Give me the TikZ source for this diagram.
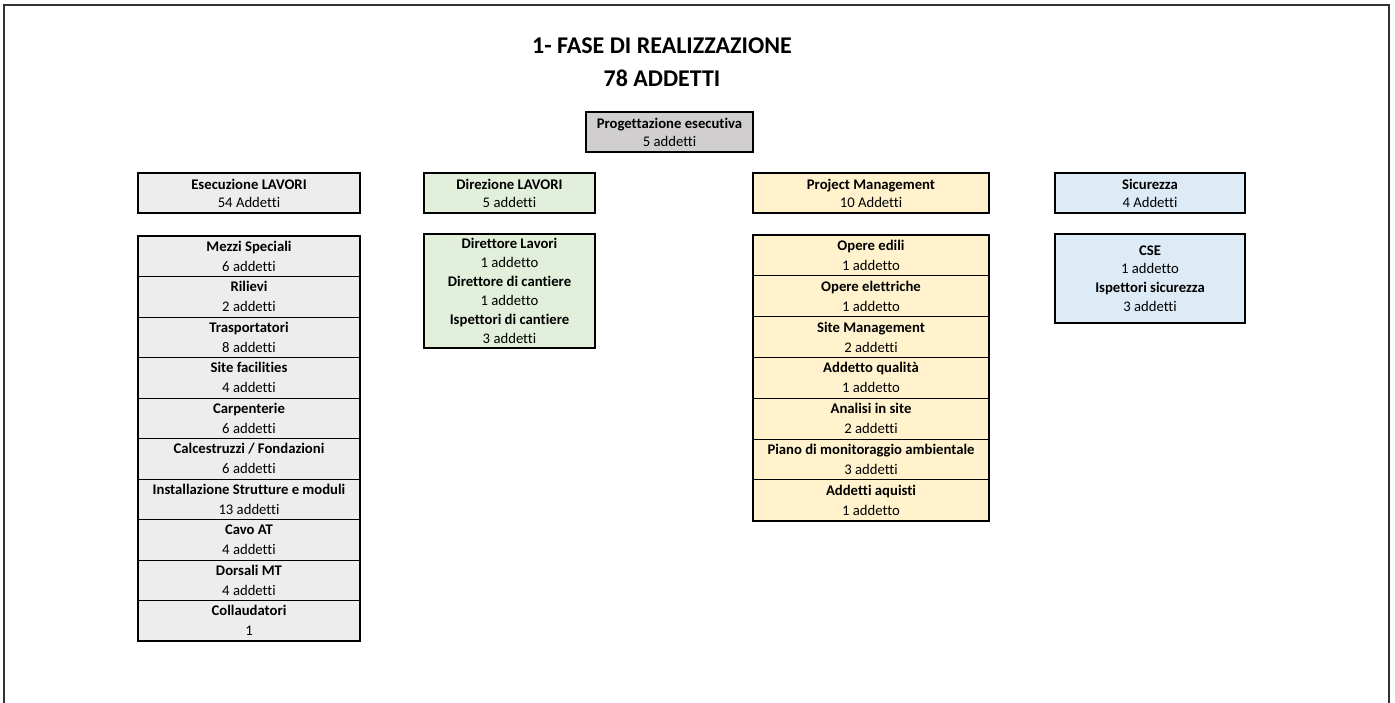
\documentclass[tikz,border=0pt]{standalone}
\usepackage{fontspec}
\setmainfont{Carlito}[Ligatures=NoCommon]
\usetikzlibrary{positioning}

\definecolor{progGray}{HTML}{D0CECE}
\definecolor{esecGray}{HTML}{EDEDED}
\definecolor{dirGreen}{HTML}{E2EFDA}
\definecolor{pmYellow}{HTML}{FFF2CC}
\definecolor{sicBlue}{HTML}{DDEBF7}

\tikzset{
  headbox/.style={draw=black, line width=2pt, minimum height=40pt, inner sep=0pt,
    align=center, font=\fontsize{14.7}{18}\selectfont},
  rowbox/.style={draw=black, line width=0.8pt, minimum height=#1, inner sep=0pt,
    align=center, font=\fontsize{14.7}{20}\selectfont},
  listbox/.style={draw=black, line width=2pt, inner sep=0pt, align=center},
  outline/.style={line width=2pt}
}

\begin{document}
\begin{tikzpicture}[x=1pt,y=-1pt]
\useasboundingbox (0,0) rectangle (1395,702);
% outer frame
\draw[line width=2pt, draw=black!80] (4,720) -- (4,5) -- (1389,5) -- (1389,720);

% title
\node[align=center, font=\fontsize{24}{32.5}\selectfont\bfseries] (title) at (662,62)
  {1- FASE DI REALIZZAZIONE\\78 ADDETTI};

\node[headbox, fill=progGray, minimum width=167pt] (prog) at (669.5,132)
  {\textbf{Progettazione esecutiva}\\5 addetti};

% heads
\node[headbox, fill=esecGray, minimum width=222pt] (esec) at (249,193)
  {\textbf{Esecuzione LAVORI}\\54 Addetti};
\node[headbox, fill=dirGreen, minimum width=171pt] (dirl) at (509.5,193)
  {\textbf{Direzione LAVORI}\\5 addetti};
\node[headbox, fill=pmYellow, minimum width=236pt] (pm) at (871,193)
  {\textbf{Project Management}\\10 Addetti};
\node[headbox, fill=sicBlue, minimum width=190pt] (sic) at (1150,193)
  {\textbf{Sicurezza}\\4 Addetti};

% esecuzione lavori
\foreach \lbl/\cnt [count=\i] in {Mezzi Speciali/6 addetti, Rilievi/2 addetti,
    Trasportatori/8 addetti, Site facilities/4 addetti, Carpenterie/6 addetti,
    {Calcestruzzi / Fondazioni}/6 addetti, Installazione Strutture e moduli/13 addetti,
    Cavo AT/4 addetti, Dorsali MT/4 addetti, Collaudatori/1}
  \node[rowbox=40.5pt, fill=esecGray, minimum width=222pt] (ese\i) at (249,{236+40.5*\i-20.25})
    {\textbf{\lbl}\\\cnt};
\draw[outline] (ese1.north west) rectangle (ese10.south east);

% direzione lavori
\node[listbox, fill=dirGreen, minimum width=171pt, minimum height=114pt,
  font=\fontsize{14.7}{19}\selectfont] (dirlist) at (509.5,291)
  {\textbf{Direttore Lavori}\\1 addetto\\\textbf{Direttore di cantiere}\\1 addetto\\
   \textbf{Ispettori di cantiere}\\3 addetti};

% project management
\foreach \lbl/\cnt [count=\i] in {Opere edili/1 addetto, Opere elettriche/1 addetto,
    Site Management/2 addetti, Addetto qualità/1 addetto, Analisi in site/2 addetti,
    Piano di monitoraggio ambientale/3 addetti, Addetti aquisti/1 addetto}
  \node[rowbox=40.8pt, fill=pmYellow, minimum width=236pt] (pm\i) at (871,{235+40.8*\i-20.4})
    {\textbf{\lbl}\\\cnt};
\draw[outline] (pm1.north west) rectangle (pm7.south east);

% sicurezza
\node[listbox, fill=sicBlue, minimum width=190pt, minimum height=89pt,
  font=\fontsize{14.7}{18.7}\selectfont] (siclist) at (1150,278.5)
  {\textbf{CSE}\\1 addetto\\\textbf{Ispettori sicurezza}\\3 addetti};
\end{tikzpicture}
\end{document}
